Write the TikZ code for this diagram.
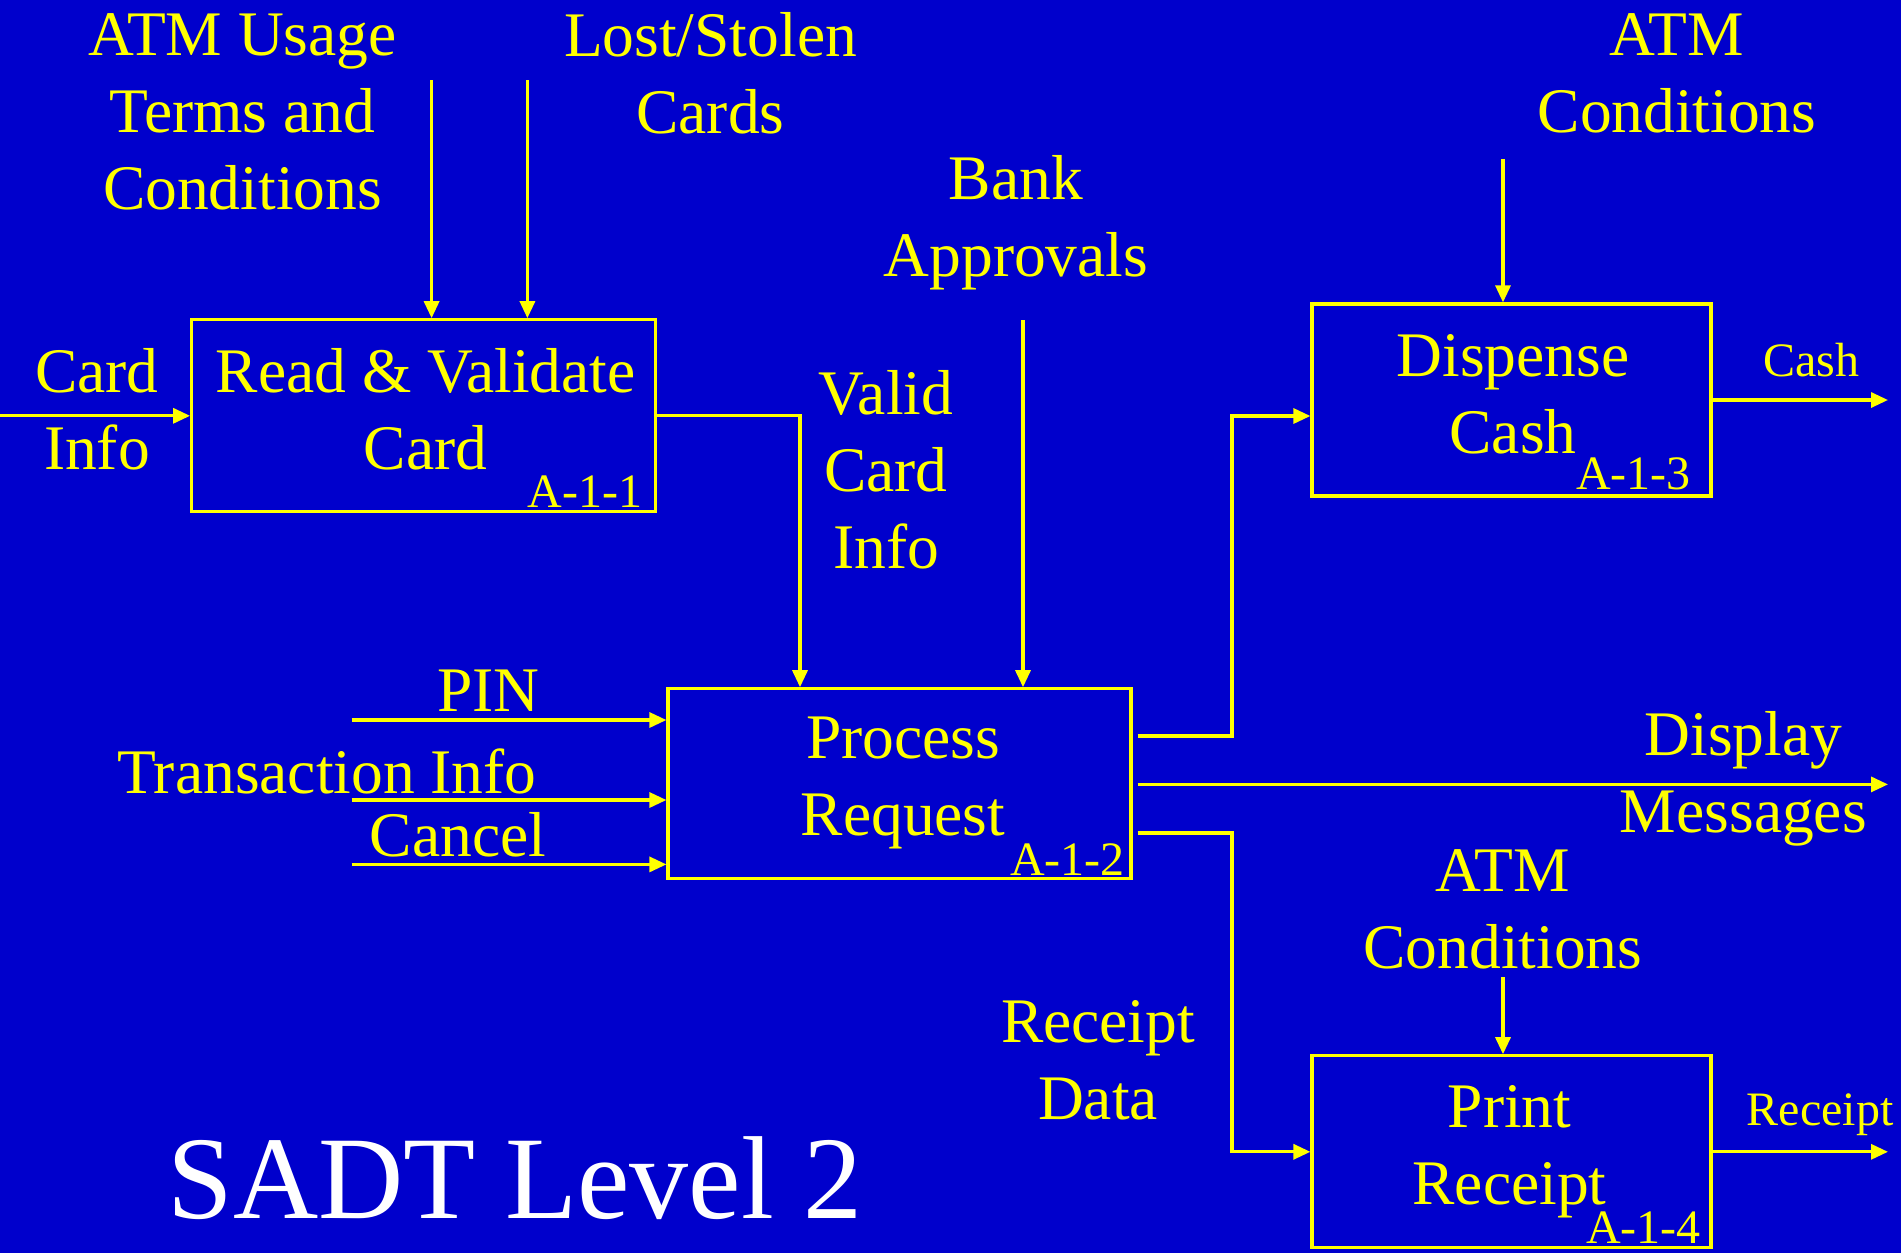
\documentclass[tikz,border=0pt]{standalone}
\usepackage{fontspec}
\setmainfont{Liberation Serif}
\usetikzlibrary{arrows.meta}
\definecolor{bg}{HTML}{0000CC}
\definecolor{yel}{HTML}{FFFF00}
\begin{document}
\begin{tikzpicture}[x=1pt,y=-1pt,
  proc/.style={draw=yel, line width=3.2pt, inner sep=0pt, rectangle},
  lbl/.style={text=yel, font=\fontsize{63.5}{77}\selectfont, align=center, inner sep=0pt},
  small/.style={text=yel, font=\fontsize{48}{57}\selectfont, inner sep=0pt},
  flow/.style={draw=yel, line width=3.2pt, -{Triangle[length=17pt,width=15pt]}},
  wire/.style={draw=yel, line width=3.2pt}]
\fill[bg] (0,0) rectangle (1901,1253);
\useasboundingbox (0,0) rectangle (1901,1253);

% boxes
\node[proc, minimum width=464pt, minimum height=192pt] (b1) at (423.7,415.8) {};
\node[proc, minimum width=463pt, minimum height=190pt] (b2) at (899.5,783.8) {};
\node[proc, minimum width=399pt, minimum height=192pt] (b3) at (1511.5,400) {};
\node[proc, minimum width=399pt, minimum height=192pt] (b4) at (1511.5,1151.8) {};

% box texts
\node[lbl] (t1) at (425.6,409) {Read \& Validate\\Card};
\node[small, anchor=base east] (i1) at (642.6,507) {A-1-1};
\node[lbl] (t2) at (903,782.5) {Process\\Request};
\node[lbl] (t3) at (1513,394) {Dispense\\Cash};
\node[small, anchor=base east] (i2) at (1125,875) {A-1-2};
\node[small, anchor=base east] (i3) at (1691,489) {A-1-3};
\node[lbl] (t4) at (1509.5,1152) {Print\\Receipt};
\node[small, anchor=base east] (i4) at (1701,1243) {A-1-4};

% labels
\node[lbl] (lusage) at (242.5,112) {ATM Usage\\Terms and\\Conditions};
\node[lbl] (llost) at (710.5,73.5) {Lost/Stolen\\Cards};
\node[lbl] (lbank) at (1016,222.5) {Bank\\Approvals};
\node[lbl] (latm1) at (1677,73.5) {ATM\\Conditions};
\node[lbl] (lcard) at (97,409) {Card\\Info};
\node[lbl] (lvalid) at (886,470) {Valid\\Card\\Info};
\node[lbl] (lpin) at (488.6,691) {PIN};
\node[lbl] (ltrans) at (327,771) {Transaction Info};
\node[lbl] (lcancel) at (458,835) {Cancel};
\node[small] (lcash) at (1811,360) {Cash};
\node[lbl] (ldisp) at (1743.4,779) {Display\\Messages};
\node[lbl] (latm2) at (1503,909.5) {ATM\\Conditions};
\node[lbl] (lrdata) at (1098,1060) {Receipt\\Data};
\node[small] (lrec) at (1820,1115) {Receipt};
\node[text=white, font=\fontsize{118}{130}\selectfont, inner sep=0pt, anchor=base] (title) at (515,1218.5) {SADT Level 2};

% coordinates
\coordinate (cin) at (0,415.8);
\coordinate (u1) at (431.6,80);
\coordinate (u2) at (527.4,80);
\coordinate (bk) at (1023,320);
\coordinate (a1) at (1503,158.8);
\coordinate (a2) at (1503,977);
\coordinate (pin) at (351.6,720);
\coordinate (trn) at (351.6,800);
\coordinate (cnl) at (351.6,864.4);
\coordinate (ocash) at (1888,400);
\coordinate (odisp) at (1888,784.4);
\coordinate (orec) at (1888,1151.8);

% connectors
\draw[flow] (cin) -- (b1.west);
\draw[flow] (u1) -- (u1 |- b1.north);
\draw[flow] (u2) -- (u2 |- b1.north);
\draw[flow] (b1.east) -| (800,0 |- b2.north);
\draw[flow] (bk) -- (bk |- b2.north);
\draw[flow] (pin) -- (pin -| b2.west);
\draw[flow] (trn) -- (trn -| b2.west);
\draw[flow] (cnl) -- (cnl -| b2.west);
\draw[flow] ([xshift=5pt]b2.east |- 0,736) -- (1232,736) |- (b3.west |- 0,416);
\draw[flow] ([xshift=5pt]b2.east |- odisp) -- (odisp);
\draw[flow] ([xshift=5pt]b2.east |- 0,833) -- (1232,833) |- (b4.west);
\draw[flow] (a1) -- (a1 |- b3.north);
\draw[flow] (a2) -- (a2 |- b4.north);
\draw[flow] (b3.east) -- (ocash);
\draw[flow] (b4.east) -- (orec);
\end{tikzpicture}
\end{document}
